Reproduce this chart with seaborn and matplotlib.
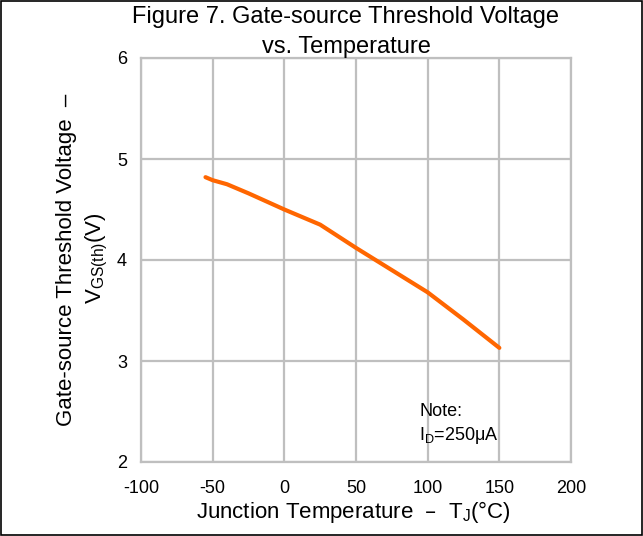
import matplotlib
matplotlib.use("Agg")
import matplotlib.pyplot as plt
import seaborn as sns
import pandas as pd
from matplotlib.patches import Rectangle

# values
temp_c = [-55, -50, -40, -25, 0, 25, 50, 75, 100, 125, 150]
vgs_th = [4.82, 4.79, 4.75, 4.66, 4.50, 4.35, 4.12, 3.90, 3.68, 3.41, 3.13]
x_ticks = [-100, -50, 0, 50, 100, 150, 200]
y_ticks = [2, 3, 4, 5, 6]

df = pd.DataFrame({"Tj": temp_c, "Vgs": vgs_th})

sns.set_style("white")
plt.rcParams["font.family"] = ["Liberation Sans", "DejaVu Sans"]
plt.rcParams["axes.unicode_minus"] = False
plt.rcParams["text.color"] = "black"

fig = plt.figure(figsize=(6.43, 5.36), dpi=100)
ax = fig.add_axes([141 / 643, 1 - 462 / 536, 430 / 643, 404 / 536])

sns.lineplot(data=df, x="Tj", y="Vgs", ax=ax, color="#FF6600", linewidth=3)

ax.set_xlim(-100, 200)
ax.set_ylim(2, 6)
ax.set_xticks(x_ticks)
ax.set_yticks(y_ticks)
ax.tick_params(length=0, labelsize=13, labelcolor="black")
ax.tick_params(axis="y", pad=10)
ax.tick_params(axis="x", pad=13)
ax.grid(True, color="#BFBFBF", linewidth=1.6)
for s in ax.spines.values():
    s.set_color("#BFBFBF")
    s.set_linewidth(1.6)

ax.set_xlabel("")
ax.set_ylabel("")
fig.text(353 / 643, 1 - 512 / 536, "Junction Temperature  \u2013  T$_\\mathregular{J}$(\u00b0C)",
         ha="center", va="center", fontsize=16, color="black")

fig.text(67 / 643, 1 - 260 / 536, "Gate-source Threshold Voltage  \u2013",
         rotation=90, ha="center", va="center", fontsize=16, color="black")
fig.text(97 / 643, 1 - 258 / 536, "V$_\\mathregular{GS(th)}$(V)",
         rotation=90, ha="center", va="center", fontsize=16, color="black")

fig.text(346 / 643, 1 - 17 / 536, "Figure 7. Gate-source Threshold Voltage",
         ha="center", va="center", fontsize=17, color="black")
fig.text(346 / 643, 1 - 47 / 536, "vs. Temperature",
         ha="center", va="center", fontsize=17, color="black")

ax.text(94, 2.37, "Note:\nI$_\\mathregular{D}$=250\u03bcA", fontsize=13,
        ha="left", va="center", linespacing=1.3, color="black")

fig.patches.append(Rectangle((0.002, 0.002), 0.996, 0.996, transform=fig.transFigure,
                             fill=False, edgecolor="black", linewidth=1.2))

fig.savefig("out.png", dpi=100)
